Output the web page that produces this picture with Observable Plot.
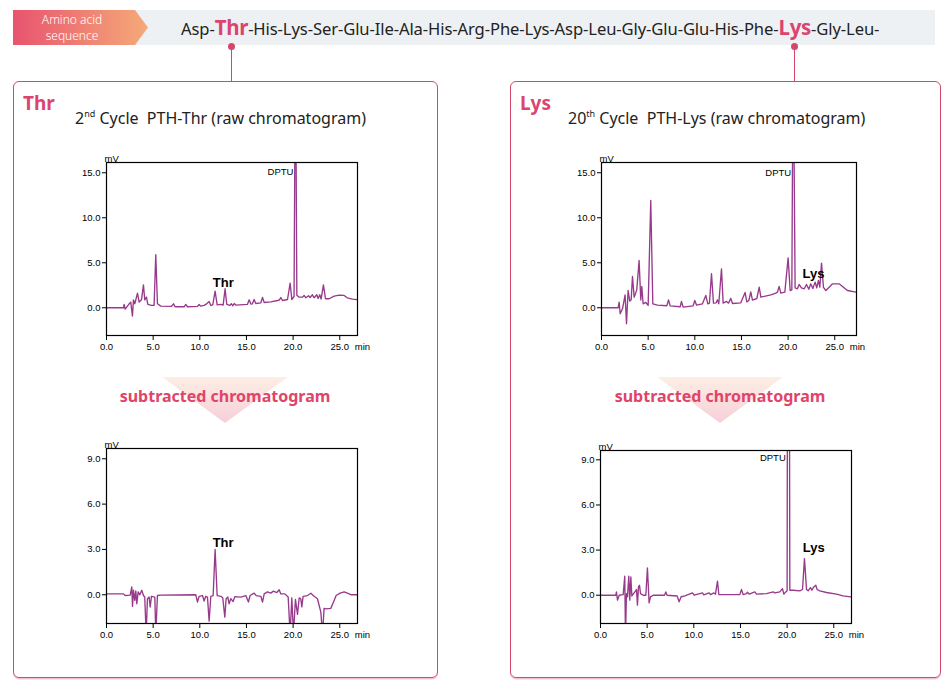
<!DOCTYPE html>
<html>
<head>
<meta charset="utf-8">
<script src="https://cdn.jsdelivr.net/npm/d3@7"></script>
<script src="https://cdn.jsdelivr.net/npm/@observablehq/plot@0.6"></script>
<style>
  body { margin: 0; background: #fff; }
  #page { position: relative; width: 946px; height: 692px; overflow: hidden; font-family: "Noto Sans", sans-serif; color: #222; }
  .abs { position: absolute; }
  .band { left: 13px; top: 10px; width: 922px; height: 35px; background: #eef1f4; }
  .tag { left: 13px; top: 10px; width: 135px; height: 35px;
         background: linear-gradient(90deg, #e8546f, #f5aa78);
         clip-path: polygon(0 0, 122px 0, 135px 50%, 122px 100%, 0 100%); }
  .tagline { width: 118px; text-align: center; color: #fff; font-size: 12px; line-height: 13px; font-weight: 300; }
  .seq { left: 181px; top: 13px; font-size: 16.6px; line-height: 28px; white-space: nowrap; letter-spacing: -0.1px; }
  .seq b { color: #dc4470; font-size: 20.5px; font-weight: 700; letter-spacing: -0.3px; }
  .box { border: 1.5px solid #d4466a; border-radius: 6px; box-shadow: 0 1.5px 0 #f3c3cf; box-sizing: border-box; }
  .head { font-size: 19px; font-weight: 700; color: #dc4470; }
  .sub { font-size: 16px; white-space: nowrap; }
  .sub sup { font-size: 9px; vertical-align: 7px; line-height: 0; }
  .tri { width: 126px; height: 46px; clip-path: polygon(0 0, 100% 0, 50% 100%);
         background: linear-gradient(180deg, #fdeee5, #f7cfd8); }
  .subt { font-size: 16px; font-weight: 700; color: #e04468; white-space: nowrap; transform: translateX(-50%); }
  .dot { width: 7px; height: 7px; border-radius: 50%; background: #d4466a; }
  .stem { width: 1.4px; background: #d4466a; }
</style>
</head>
<body>
<div id="page"></div>
<script>
// Peptide sequence (first 22 residues); the two residues examined are highlighted
const residues = ["Asp","Thr","His","Lys","Ser","Glu","Ile","Ala","His","Arg","Phe",
                  "Lys","Asp","Leu","Gly","Glu","Glu","His","Phe","Lys","Gly","Leu"];
const highlighted = [1, 19];

// Chromatogram traces: [retention time (min), signal (mV)]
const thrRaw = [
  [0,0],[1.82,0],[1.89,0.37],[2.0,-0.15],[2.43,0.44],[2.6,0.63],[2.78,-0.92],[2.89,0.88],[3.03,0.44],
  [3.32,1.63],[3.5,0.63],[3.75,0.88],[3.96,2.55],[4.1,0.88],[4.28,1.18],[4.43,0.37],[4.82,0.26],
  [5.1,0.26],[5.28,5.89],[5.46,0.44],[5.82,0.18],[6.96,0.15],[7.18,0.44],[7.36,0.11],[8.32,0.11],
  [8.5,0.37],[8.68,0.11],[9.75,0.15],[9.93,0.37],[10.1,0.18],[10.46,0.26],[10.64,0.37],[11.0,0.7],
  [11.18,0.26],[11.39,0.33],[11.64,1.85],[11.86,0.33],[12.25,0.37],[12.5,0.3],[12.71,2.11],[12.89,0.37],
  [13.21,0.26],[13.39,0.44],[13.54,0.22],[13.68,0.48],[13.86,0.3],[15.1,0.37],[15.29,0.88],[15.47,0.41],
  [15.64,0.44],[15.82,0.92],[16.0,0.48],[16.54,0.55],[16.72,1.14],[16.9,0.59],[17.61,0.66],[18.33,0.81],
  [18.54,0.88],[18.68,1.14],[18.86,0.81],[19.4,0.92],[19.68,2.74],[19.86,0.92],[20.1,1.25],[20.25,30],
  [20.4,1.4],[20.65,1.18],[21.0,1.18],[21.18,1.37],[21.36,1.11],[21.65,1.33],[21.82,1.14],[22.07,1.44],
  [22.25,1.11],[22.54,1.44],[22.68,1.03],[22.86,1.44],[23.0,0.96],[23.25,2.55],[23.47,1.0],[23.86,1.0],
  [24.4,1.3],[24.93,1.41],[25.47,1.37],[25.8,1.11],[26.36,0.96],[27.0,0.88]
];
const lysRaw = [
  [0,0],[1.78,0],[1.89,0.63],[2.0,-0.67],[2.25,-0.11],[2.53,1.44],[2.68,-1.78],[2.85,1.92],[3.03,0.74],
  [3.18,0.88],[3.32,3.48],[3.5,1.18],[3.78,1.99],[4.03,5.25],[4.21,0.88],[4.32,2.37],[4.46,0.44],
  [4.75,0.59],[5.0,0.26],[5.28,11.92],[5.5,0.44],[6.0,0.3],[7.0,0.22],[7.18,0.88],[7.36,0.22],
  [8.43,0.11],[8.57,0.7],[8.75,0.07],[9.82,0.22],[10.0,0.81],[10.18,0.3],[10.82,0.44],[11.18,1.37],
  [11.39,0.44],[11.57,0.52],[11.79,3.78],[12.0,0.52],[12.29,0.55],[12.43,0.88],[12.57,0.44],[12.86,4.33],
  [13.04,0.52],[13.39,0.7],[13.61,0.52],[13.86,1.04],[14.04,0.48],[14.93,0.55],[15.39,1.7],[15.57,0.66],
  [15.79,0.81],[16.0,1.77],[16.18,0.85],[16.65,1.03],[16.9,2.29],[17.08,1.18],[18.15,1.44],[18.68,1.63],
  [18.86,1.74],[19.04,2.37],[19.22,1.63],[19.65,1.74],[20.0,5.55],[20.22,1.92],[20.4,1.99],[20.54,30],
  [20.75,2.22],[21.0,2.11],[21.18,2.59],[21.43,2.22],[21.72,2.11],[21.97,2.59],[22.22,2.07],[22.43,2.66],
  [22.65,2.14],[22.9,2.85],[23.07,2.22],[23.25,3.03],[23.4,2.29],[23.58,4.96],[23.79,2.26],[24.04,1.92],
  [24.4,2.29],[24.75,2.66],[25.47,2.66],[25.93,2.29],[26.36,1.92],[27.3,1.74]
];
const thrSub = [
  [0,0.06],[1.82,0.06],[2.0,-0.05],[2.54,-0.02],[2.71,0.52],[2.79,-0.77],[2.89,0.3],[3.03,-0.37],
  [3.14,0.25],[3.25,-0.59],[3.39,0.19],[3.57,0],[3.78,0.3],[3.96,-0.05],[4.1,-0.15],[4.25,-2.6],
  [4.39,-0.26],[4.57,-0.15],[4.68,-0.81],[4.82,-0.1],[5.18,-0.15],[5.28,-2.6],[5.46,-0.05],[5.82,-0.02],
  [9.57,0],[9.75,-0.48],[9.93,-0.1],[10.29,-0.05],[10.46,-0.41],[10.64,-0.1],[10.82,-0.15],[11.0,-1.74],
  [11.18,-0.1],[11.43,-0.05],[11.64,3.0],[11.86,-0.05],[12.25,-0.1],[12.46,-0.2],[12.68,-1.48],[12.82,-0.26],
  [13.0,-0.15],[13.14,-0.6],[13.32,-0.25],[13.57,-0.45],[13.75,-0.12],[14.39,-0.15],[14.93,-0.05],
  [15.21,-0.48],[15.39,-0.05],[15.82,0.11],[16.04,-0.05],[16.54,-0.1],[16.72,-0.48],[16.9,0.06],
  [17.25,0.19],[17.61,0.11],[17.89,0.24],[18.25,0.15],[18.5,0.33],[18.68,0.06],[19.11,0.06],[19.47,-0.15],
  [19.68,-2.6],[19.86,-0.2],[20.04,-2.6],[20.25,-0.3],[20.47,-1.3],[20.65,-0.2],[20.82,-0.26],[20.93,-0.8],
  [21.07,-0.1],[21.54,-0.05],[21.9,0.1],[22.25,-0.1],[22.61,-0.26],[22.97,-1.15],[23.15,-2.6],[23.32,-0.9],
  [23.54,-0.93],[24.04,-0.9],[24.33,-0.48],[24.61,-0.05],[25.04,0.11],[25.47,0.19],[25.82,0.11],
  [26.25,0],[27.0,0]
];
const lysSub = [
  [0,0],[1.64,0],[1.71,0.22],[1.82,-0.33],[2.0,0],[2.43,0.04],[2.6,1.26],[2.68,-2.8],[2.78,0.11],
  [2.89,-0.11],[3.03,1.26],[3.14,-0.33],[3.25,1.22],[3.36,-0.05],[3.68,0.22],[3.86,0.38],[3.96,-0.66],
  [4.07,0.55],[4.18,0.66],[4.29,0.11],[4.57,0],[4.86,0],[5.03,1.81],[5.21,-0.51],[5.36,-0.11],[5.64,0],
  [6.86,0],[7.0,0.22],[7.14,0],[8.21,-0.05],[8.43,-0.44],[8.64,-0.1],[9.04,-0.04],[9.86,0.15],[10.04,0],
  [10.93,0.15],[11.07,0.02],[11.64,0.15],[11.79,0.04],[12.14,0.15],[12.32,0.07],[12.54,0.93],[12.68,0.05],
  [13.5,0.04],[14.93,0.04],[15.11,0.38],[15.29,0.04],[15.64,0.1],[15.75,0.2],[15.93,0.07],[16.54,0.22],
  [16.72,0.07],[17.79,0.11],[18.5,0.22],[18.68,0.15],[19.22,0.22],[19.5,0.44],[19.65,0.07],[19.86,0.22],
  [20.0,0.3],[20.07,30],[20.2,30],[20.29,0.33],[20.65,0.33],[21.36,0.29],[21.65,0.38],[21.86,2.43],
  [22.08,0.38],[22.25,0.29],[22.5,0.51],[22.65,0.33],[22.86,0.55],[23.07,0.66],[23.22,0.38],[23.5,0.29],
  [24.22,0.18],[25.29,0.07],[26.0,-0.04],[26.82,-0.11]
];

// Axis ticks
const timeTicks = [0, 5, 10, 15, 20, 25];
const rawTicks = [0, 5, 10, 15];
const subTicks = [0, 3, 6, 9];

// Peak annotations: [time, mV, text, bold]
const thrRawLabels = [[20.25, 15.07, "DPTU", false], [12.52, 2.73, "Thr", true]];
const lysRawLabels = [[20.54, 15.0, "DPTU", false], [22.72, 3.78, "Lys", true]];
const thrSubLabels = [[12.5, 3.44, "Thr", true]];
const lysSubLabels = [[20.07, 9.14, "DPTU", false], [22.86, 3.17, "Lys", true]];

const page = document.getElementById("page");
function add(html, cls, left, top, extra) {
  const el = document.createElement("div");
  el.className = "abs " + cls;
  el.innerHTML = html;
  el.style.left = left + "px";
  el.style.top = top + "px";
  if (extra) Object.assign(el.style, extra);
  page.appendChild(el);
  return el;
}

// Sequence banner
add("", "band", 13, 10);
add("", "tag", 13, 10);
add("Amino acid", "tagline", 13, 12.5);
add("sequence", "tagline", 13, 28.5);
const seq = add(residues.map((r, i) => (highlighted.includes(i) ? `<b>${r}</b>` : r) + "-").join(""), "seq", 181, 13);

// Panels
add("", "box", 13, 81, {width: "425px", height: "597px"});
add("", "box", 510, 81, {width: "431px", height: "597px"});

// Connectors from highlighted residues to their panels
const pageBox = page.getBoundingClientRect();
seq.querySelectorAll("b").forEach(b => {
  const r = b.getBoundingClientRect();
  const cx = (r.left + r.right) / 2 - pageBox.left;
  add("", "stem", cx - 0.7, 46, {height: "35px"});
  add("", "dot", cx - 3.5, 42.5);
});

add("Thr", "head", 23, 90);
add("Lys", "head", 520, 90);
add("2<sup>nd</sup> Cycle&nbsp; PTH-Thr (raw chromatogram)", "sub", 75, 107);
add("20<sup>th</sup> Cycle&nbsp; PTH-Lys (raw chromatogram)", "sub", 568, 107);

add("", "tri", 162, 377);
add("", "tri", 657, 377);
add("subtracted chromatogram", "subt", 225, 385);
add("subtracted chromatogram", "subt", 720, 385);

// One chromatogram panel
function chromatogram(data, labels, xMax, yDomain, yTicks, frameW, frameH) {
  const mL = 36, mR = 34, mT = 22, mB = 28;
  return Plot.plot({
    width: mL + frameW + mR,
    height: mT + frameH + mB,
    marginLeft: mL, marginRight: mR, marginTop: mT, marginBottom: mB,
    style: {fontFamily: "'Liberation Sans', Arial, sans-serif", fontSize: "9.5px", color: "#000", background: "transparent", overflow: "visible"},
    x: {domain: [0, xMax]},
    y: {domain: yDomain},
    marks: [
      Plot.line(data, {x: d => d[0], y: d => d[1], stroke: "#983a8c", strokeWidth: 1.35, clip: true}),
      Plot.frame({stroke: "#000", strokeWidth: 1.2}),
      Plot.axisX({ticks: timeTicks, tickSize: 5, tickPadding: 3, tickFormat: d => d.toFixed(1), label: null, stroke: "#000"}),
      Plot.axisY({ticks: yTicks, tickSize: 4, tickPadding: 2, tickFormat: d => d.toFixed(1), label: null, stroke: "#000"}),
      Plot.text(["mV"], {frameAnchor: "top-left", dx: -2, dy: -7, fontSize: 9.5}),
      Plot.text(["min"], {x: () => 25, y: () => yDomain[0], dx: 15, dy: 8, lineAnchor: "top", textAnchor: "start", fontSize: 9.5}),
      Plot.text(labels.filter(d => !d[3]), {x: d => d[0], y: d => d[1], text: d => d[2], textAnchor: "end", dx: -2, fontSize: 9.5}),
      Plot.text(labels.filter(d => d[3]), {x: d => d[0], y: d => d[1], text: d => d[2], fontWeight: "bold", fontSize: 13})
    ]
  });
}

function place(svg, left, top) {
  svg.style.position = "absolute";
  svg.style.left = left + "px";
  svg.style.top = top + "px";
  page.appendChild(svg);
}

place(chromatogram(thrRaw, thrRawLabels, 26.9, [-3.08, 16.14], rawTicks, 251, 173), 70, 140);
place(chromatogram(lysRaw, lysRawLabels, 27.33, [-3.08, 16.14], rawTicks, 255, 173), 565, 140);
place(chromatogram(thrSub, thrSubLabels, 26.9, [-1.9, 9.68], subTicks, 251, 175), 70, 426);
place(chromatogram(lysSub, lysSubLabels, 26.9, [-1.88, 9.62], subTicks, 251, 173), 564, 428);
</script>
</body>
</html>
